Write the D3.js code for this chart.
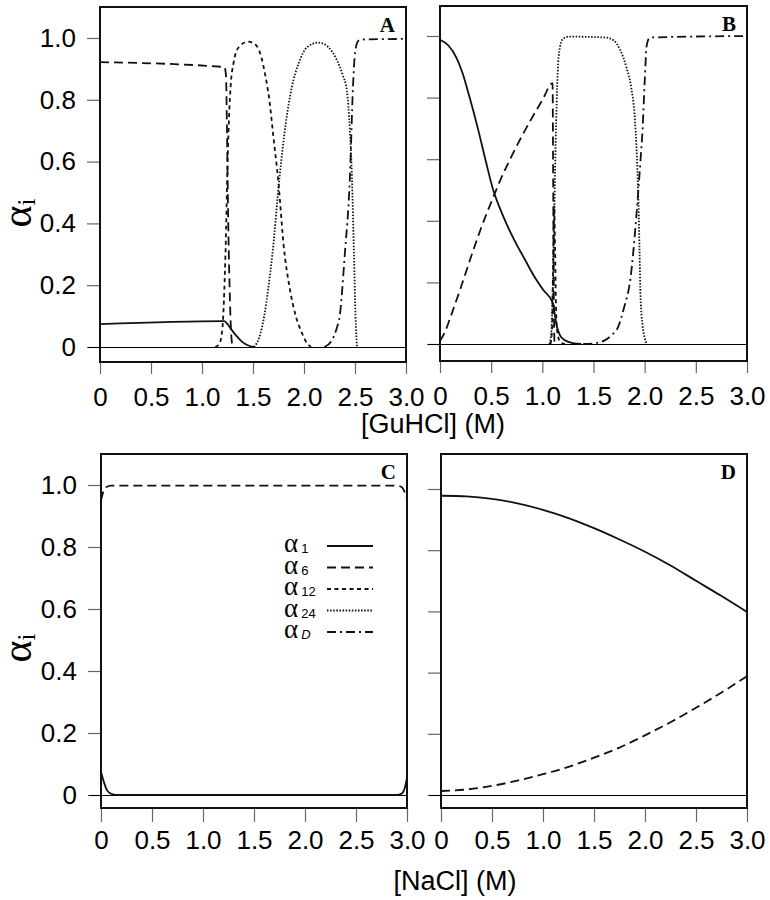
<!DOCTYPE html>
<html>
<head>
<meta charset="utf-8">
<title>alpha_i vs [GuHCl] and [NaCl]</title>
<style>
  body { margin: 0; background: #fff; }
  .tick text { font-family: "Liberation Sans", Arial, sans-serif; font-size: 26px; fill: #000; }
  .tick line { stroke: #666; stroke-width: 1.2; }
  .domain { display: none; }
  .curve { fill: none; stroke: #111; stroke-width: 1.8; }
</style>
</head>
<body>
<div id="chart"></div>
<script src="https://cdnjs.cloudflare.com/ajax/libs/d3/7.8.5/d3.min.js"></script>
<script>
// tick values shared by all four panels
const xTicks = [0, 0.5, 1, 1.5, 2, 2.5, 3];
const yTicks = [0, 0.2, 0.4, 0.6, 0.8, 1];
const seriesKeys = ["a1", "a6", "a12", "a24", "aD"];
const legendSubs = ["1", "6", "12", "24", "D"];

// panel A, [GuHCl] (M) vs alpha
const A_a1 = [[0,0.074],[1.22,0.084],[1.24,0.078],[1.28,0.06],[1.34,0.035],[1.40,0.015],[1.46,0.004],[1.52,0]];
const A_a6 = [[0,0.922],[1.22,0.906],[1.235,0.88],[1.245,0.7],[1.255,0.45],[1.27,0.2],[1.285,0.05],[1.30,0]];
const A_a12 = [[1.13,0],[1.17,0.01],[1.20,0.06],[1.23,0.3],[1.255,0.65],[1.28,0.84],[1.31,0.92],[1.36,0.97],[1.45,0.988],[1.52,0.98],[1.58,0.94],[1.62,0.88],[1.66,0.8],[1.70,0.68],[1.75,0.53],[1.80,0.33],[1.86,0.19],[1.92,0.1],[1.98,0.045],[2.03,0.012],[2.07,0]];
const A_a24 = [[1.51,0],[1.56,0.03],[1.61,0.1],[1.65,0.19],[1.69,0.3],[1.76,0.55],[1.82,0.72],[1.88,0.84],[1.95,0.92],[2.03,0.97],[2.14,0.985],[2.24,0.97],[2.32,0.93],[2.38,0.88],[2.42,0.83],[2.45,0.7],[2.47,0.55],[2.49,0.3],[2.505,0.1],[2.52,0]];
const A_aD = [[2.20,0],[2.27,0.02],[2.32,0.06],[2.35,0.1],[2.40,0.3],[2.45,0.55],[2.48,0.84],[2.50,0.95],[2.53,0.99],[2.56,0.995],[3.0,0.997]];

// panel B
const B_a1 = [[0,0.988],[0.08,0.97],[0.16,0.93],[0.22,0.88],[0.29,0.80],[0.37,0.70],[0.45,0.59],[0.52,0.50],[0.58,0.445],[0.65,0.39],[0.73,0.335],[0.82,0.28],[0.92,0.22],[1.01,0.175],[1.10,0.135],[1.12,0.10],[1.14,0.06],[1.17,0.03],[1.22,0.012],[1.30,0.003],[1.38,0]];
const B_a6 = [[0,0.01],[0.05,0.04],[0.1,0.085],[0.2,0.18],[0.3,0.28],[0.4,0.375],[0.5,0.46],[0.6,0.54],[0.7,0.61],[0.8,0.675],[0.9,0.735],[1.0,0.792],[1.10,0.847],[1.105,0.6],[1.11,0.3],[1.115,0.05],[1.12,0]];
const B_a12 = [[1.08,0],[1.095,0.05],[1.105,0.25],[1.115,0.45],[1.125,0.3],[1.135,0.1],[1.15,0.03],[1.18,0.005],[1.22,0]];
const B_a24 = [[1.07,0],[1.09,0.05],[1.11,0.3],[1.13,0.65],[1.15,0.88],[1.17,0.96],[1.20,0.99],[1.26,0.998],[1.62,0.995],[1.70,0.985],[1.76,0.955],[1.82,0.9],[1.87,0.83],[1.90,0.75],[1.925,0.6],[1.94,0.45],[1.95,0.3],[1.96,0.15],[1.98,0.06],[2.0,0.02],[2.02,0]];
const B_aD = [[1.40,0],[1.5,0.002],[1.6,0.01],[1.68,0.03],[1.74,0.055],[1.80,0.12],[1.86,0.21],[1.92,0.42],[1.96,0.6],[1.98,0.7],[2.0,0.85],[2.02,0.97],[2.05,0.995],[3.0,1.0]];

// panel C, [NaCl] (M)
const C_a1 = [[0,0.075],[0.03,0.04],[0.06,0.015],[0.1,0.004],[0.15,0],[2.9,0],[2.95,0.005],[2.98,0.025],[3.0,0.055]];
const C_a6 = [[0,0.95],[0.02,0.975],[0.05,0.993],[0.1,0.998],[2.9,0.998],[2.95,0.993],[2.98,0.975],[3.0,0.955]];

// panel D
const D_a1 = [[0,0.978],[0.25,0.976],[0.5,0.968],[0.75,0.953],[1.0,0.932],[1.25,0.905],[1.5,0.872],[1.75,0.835],[2.0,0.795],[2.25,0.75],[2.5,0.70],[2.75,0.65],[3.0,0.598]];
const D_a6 = [[0,0.013],[0.25,0.018],[0.5,0.03],[0.75,0.047],[1.0,0.068],[1.25,0.092],[1.5,0.122],[1.75,0.155],[2.0,0.195],[2.25,0.238],[2.5,0.285],[2.75,0.335],[3.0,0.388]];

const dash = { a1: null, a6: "9,5", a12: "4,3.5", a24: "1.5,1.6", aD: "9,4,2,4" };

const panels = [
  { id: "A", left: 100, right: 406, top: 7, bottom: 362, y0: 347, y1: 38, labels: true, row: 0,
    curves: { a1: A_a1, a6: A_a6, a12: A_a12, a24: A_a24, aD: A_aD } },
  { id: "B", left: 440, right: 747, top: 6, bottom: 361, y0: 344, y1: 36, labels: false, row: 0,
    curves: { a1: B_a1, a6: B_a6, a12: B_a12, a24: B_a24, aD: B_aD } },
  { id: "C", left: 101, right: 407, top: 454, bottom: 808, y0: 795, y1: 485, labels: true, row: 1,
    curves: { a1: C_a1, a6: C_a6 } },
  { id: "D", left: 441, right: 747, top: 454, bottom: 808, y0: 795, y1: 489, labels: false, row: 1,
    curves: { a1: D_a1, a6: D_a6 } }
];

const fmt = d => d === 0 ? "0" : d.toFixed(1);

const svg = d3.select("#chart").append("svg")
  .attr("width", 770)
  .attr("height", 900);

panels.forEach(p => {
  const x = d3.scaleLinear().domain([0, 3]).range([p.left, p.right]);
  const y = d3.scaleLinear().domain([0, 1]).range([p.y0, p.y1]);
  const g = svg.append("g");

  g.append("g")
    .attr("transform", `translate(${p.left},0)`)
    .call(d3.axisLeft(y).tickValues(yTicks).tickSize(13).tickPadding(11)
      .tickFormat(p.labels ? fmt : ""));

  g.append("g")
    .attr("transform", `translate(0,${p.bottom})`)
    .call(d3.axisBottom(x).tickValues(xTicks)
      .tickSize(p.row === 0 ? 12 : 14).tickPadding(p.row === 0 ? 14 : 9)
      .tickFormat(fmt));

  // zero reference line, runs out through the 0 tick
  g.append("line")
    .attr("x1", p.left - 12).attr("x2", p.right)
    .attr("y1", y(0) + 0.5).attr("y2", y(0) + 0.5)
    .attr("stroke", "#000").attr("stroke-width", 1)
    .attr("shape-rendering", "crispEdges");

  const line = d3.line()
    .x(d => x(d[0]))
    .y(d => y(d[1]))
    .curve(d3.curveMonotoneX);

  seriesKeys.forEach(k => {
    if (!p.curves[k]) return;
    g.append("path")
      .datum(p.curves[k])
      .attr("class", "curve")
      .attr("stroke-dasharray", dash[k])
      .attr("d", line);
  });

  g.append("rect")
    .attr("x", p.left).attr("y", p.top)
    .attr("width", p.right - p.left).attr("height", p.bottom - p.top)
    .attr("fill", "none").attr("stroke", "#111").attr("stroke-width", 2);

  g.append("text")
    .attr("x", p.right - 11).attr("y", p.top + 25)
    .attr("text-anchor", "end")
    .style("font-family", "'Liberation Serif', 'Times New Roman', serif")
    .style("font-weight", "bold").style("font-size", "21px")
    .text(p.id);
});

// axis titles
svg.append("text")
  .attr("x", 433).attr("y", 433)
  .attr("text-anchor", "middle")
  .style("font-family", "'Liberation Sans', Arial, sans-serif").style("font-size", "27px")
  .text("[GuHCl] (M)");

svg.append("text")
  .attr("x", 455).attr("y", 890)
  .attr("text-anchor", "middle")
  .style("font-family", "'Liberation Sans', Arial, sans-serif").style("font-size", "27px")
  .text("[NaCl] (M)");

[213, 648].forEach(cy => {
  const t = svg.append("text")
    .attr("transform", `translate(31,${cy}) rotate(-90)`)
    .attr("text-anchor", "middle")
    .style("font-family", "'Liberation Serif', 'Times New Roman', serif");
  t.append("tspan").style("font-size", "42px").text("α");
  t.append("tspan").style("font-size", "25px").attr("dy", 4).text("i");
});

// legend inside panel C
const legend = svg.append("g");
seriesKeys.forEach((k, i) => {
  const ly = 552 + i * 21.5;
  const t = legend.append("text")
    .attr("x", 284).attr("y", ly)
    .style("font-family", "'Liberation Serif', 'Times New Roman', serif");
  t.append("tspan").style("font-size", "27px").text("α");
  t.append("tspan")
    .style("font-family", "'Liberation Sans', Arial, sans-serif")
    .style("font-size", "13px")
    .style("font-style", k === "aD" ? "italic" : "normal")
    .attr("dx", 3).attr("dy", 1)
    .text(legendSubs[i]);
  legend.append("line")
    .attr("x1", 327).attr("x2", 373)
    .attr("y1", ly - 6).attr("y2", ly - 6)
    .attr("class", "curve")
    .attr("stroke-dasharray", dash[k]);
});
</script>
</body>
</html>
